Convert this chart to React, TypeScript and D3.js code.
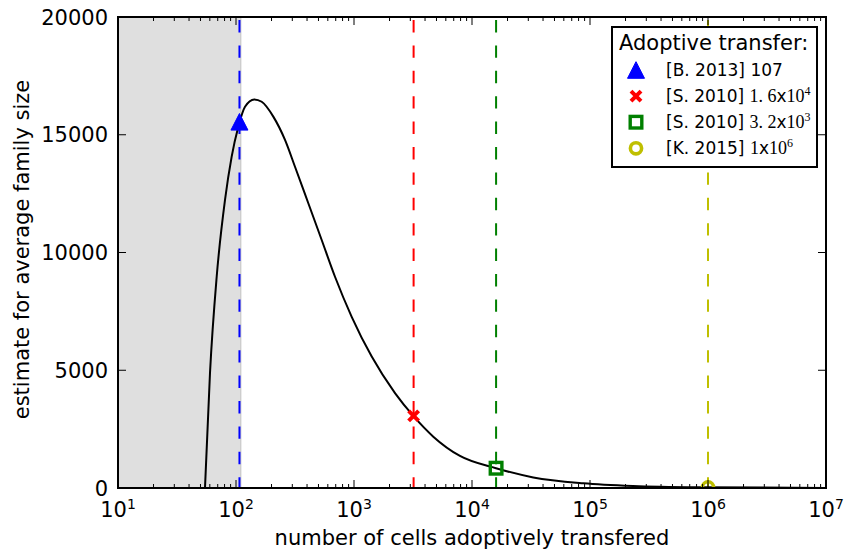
import React from 'react';
import * as d3 from 'd3';

// curve (cells transferred -> estimated family size)
const cellCounts = [54.6, 60.2, 68.6, 80.7, 91.9, 104.6, 119.2, 142.9, 165.1, 207.1, 260.2, 316.2, 410.1, 532.4, 690.2, 956, 1413, 2226, 3181, 4699, 7907, 15970, 33070, 87700, 231200, 855000, 10000000];
const familySize = [0, 4880, 8970, 12230, 14070, 15340, 16190, 16500, 16400, 15770, 14780, 13640, 12090, 10530, 8970, 7270, 5580, 4030, 3060, 2180, 1360, 840, 450, 200, 85, 30, 3];

// experiments: vertical line + marker on the curve
const studyLabels = ['[B. 2013]', '[S. 2010]', '[S. 2010]', '[K. 2015]'];
const studyCells = [107, 3200, 16000, 1000000];
const studyFamily = [15550, 3060, 840, 25];
const studyColors = ['#0000ff', '#ff0000', '#008000', '#bfbf00'];
const studyMarkers = ['triangle', 'x', 'square', 'circle'];

const shadedRange = [10, 110];
const xDomain = [10, 1e7];
const yDomain = [0, 20000];
const yTicks = [0, 5000, 10000, 15000, 20000];
const xExponents = [1, 2, 3, 4, 5, 6, 7];

const width = 844;
const height = 555;
const margin = { top: 17, right: 18, bottom: 67, left: 118 };
const sans = '"DejaVu Sans", sans-serif';
const serif = '"Liberation Serif", "DejaVu Serif", serif';

const Marker = ({ kind, color, x, y }: { kind: string; color: string; x: number; y: number }) => {
  if (kind === 'triangle') {
    return <path d={`M${x},${y - 8.3}L${x - 8.5},${y + 8.3}L${x + 8.5},${y + 8.3}Z`} fill={color} stroke={color} strokeWidth={1} />;
  }
  if (kind === 'x') {
    return <path d={`M${x - 5},${y - 5}L${x + 5},${y + 5}M${x - 5},${y + 5}L${x + 5},${y - 5}`} stroke={color} strokeWidth={4} fill="none" />;
  }
  if (kind === 'square') {
    return <rect x={x - 5.8} y={y - 5.8} width={11.6} height={11.6} fill="none" stroke={color} strokeWidth={3.4} />;
  }
  return <circle cx={x} cy={y} r={5.6} fill="none" stroke={color} strokeWidth={3.6} />;
};

const App = () => {
  const innerW = width - margin.left - margin.right;
  const innerH = height - margin.top - margin.bottom;

  const x = d3.scaleLog().domain(xDomain).range([0, innerW]);
  const y = d3.scaleLinear().domain(yDomain).range([innerH, 0]);

  const line = d3.line<number>()
    .x((d, i) => x(cellCounts[i]))
    .y(d => y(d))
    .curve(d3.curveMonotoneX);

  const minorTicks: number[] = [];
  xExponents.slice(0, -1).forEach(e => {
    for (let k = 2; k <= 9; k++) minorTicks.push(k * Math.pow(10, e));
  });

  // legend entries, the numbers are mathtext-like
  const legendValues = [
    <tspan fontFamily={sans}>107</tspan>,
    <><tspan fontFamily={serif} fontSize={18}>1. 6</tspan><tspan fontFamily={sans}>x</tspan><tspan fontFamily={serif} fontSize={18}>10</tspan><tspan fontFamily={serif} fontSize={12} dy={-7}>4</tspan></>,
    <><tspan fontFamily={serif} fontSize={18}>3. 2</tspan><tspan fontFamily={sans}>x</tspan><tspan fontFamily={serif} fontSize={18}>10</tspan><tspan fontFamily={serif} fontSize={12} dy={-7}>3</tspan></>,
    <><tspan fontFamily={serif} fontSize={18}>1</tspan><tspan fontFamily={sans}>x</tspan><tspan fontFamily={serif} fontSize={18}>10</tspan><tspan fontFamily={serif} fontSize={12} dy={-7}>6</tspan></>
  ];

  return (
    <svg width={width} height={height} style={{ position: 'absolute', left: 0, top: 0, background: 'white' }} fontFamily={sans}>
      <defs>
        <clipPath id="plot-clip">
          <rect x={0} y={0} width={innerW} height={innerH} />
        </clipPath>
      </defs>
      <g transform={`translate(${margin.left},${margin.top})`}>
        <g clipPath="url(#plot-clip)">
          <rect
            x={x(shadedRange[0])} y={0}
            width={x(shadedRange[1]) - x(shadedRange[0])} height={innerH}
            fill="rgba(128,128,128,0.25)" stroke="rgba(128,128,128,0.25)" strokeWidth={1.5}
          />
          {studyCells.map((c, i) => (
            <line key={i} x1={x(c)} x2={x(c)} y1={0} y2={innerH}
              stroke={studyColors[i]} strokeWidth={2} strokeDasharray="12.4,13" strokeDashoffset={22.4} />
          ))}
          <path d={line(familySize) || ''} fill="none" stroke="black" strokeWidth={2} />
          {studyCells.map((c, i) => (
            <Marker key={i} kind={studyMarkers[i]} color={studyColors[i]} x={x(c)} y={y(studyFamily[i])} />
          ))}
        </g>

        {/* ticks, inward on all four sides */}
        {xExponents.map(e => {
          const px = x(Math.pow(10, e));
          return (
            <g key={e}>
              <line x1={px} x2={px} y1={innerH} y2={innerH - 8} stroke="black" strokeWidth={1} />
              <line x1={px} x2={px} y1={0} y2={8} stroke="black" strokeWidth={1} />
              <text x={px} y={innerH + 28.5} textAnchor="middle" fontSize={21}>
                10<tspan fontSize={14} dy={-8}>{e}</tspan>
              </text>
            </g>
          );
        })}
        {minorTicks.map(t => (
          <g key={t}>
            <line x1={x(t)} x2={x(t)} y1={innerH} y2={innerH - 4} stroke="black" strokeWidth={1} />
            <line x1={x(t)} x2={x(t)} y1={0} y2={4} stroke="black" strokeWidth={1} />
          </g>
        ))}
        {yTicks.map(t => (
          <g key={t}>
            <line x1={0} x2={8} y1={y(t)} y2={y(t)} stroke="black" strokeWidth={1} />
            <line x1={innerW} x2={innerW - 8} y1={y(t)} y2={y(t)} stroke="black" strokeWidth={1} />
            <text x={-10} y={y(t)} dy="0.36em" textAnchor="end" fontSize={21}>{t}</text>
          </g>
        ))}
        <rect x={0} y={0} width={innerW} height={innerH} fill="none" stroke="black" strokeWidth={2} />

        <text x={innerW / 2} y={innerH + 57} textAnchor="middle" fontSize={21}>number of cells adoptively transfered</text>
        <text transform={`translate(${28.5 - margin.left},${innerH / 2 - 3}) rotate(-90)`} textAnchor="middle" fontSize={21}>estimate for average family size</text>
      </g>

      {/* legend */}
      <g transform="translate(612,27)">
        <rect x={0} y={0} width={205} height={140} fill="white" stroke="black" strokeWidth={2} />
        <text x={7} y={22.5} fontSize={21}>Adoptive transfer:</text>
        {studyLabels.map((lab, i) => (
          <g key={i} transform={`translate(0,${43 + i * 26.1})`}>
            <Marker kind={studyMarkers[i]} color={studyColors[i]} x={24} y={0} />
            <text x={54} y={6} fontSize={17}>
              {lab} {legendValues[i]}
            </text>
          </g>
        ))}
      </g>
    </svg>
  );
};

export default App;
